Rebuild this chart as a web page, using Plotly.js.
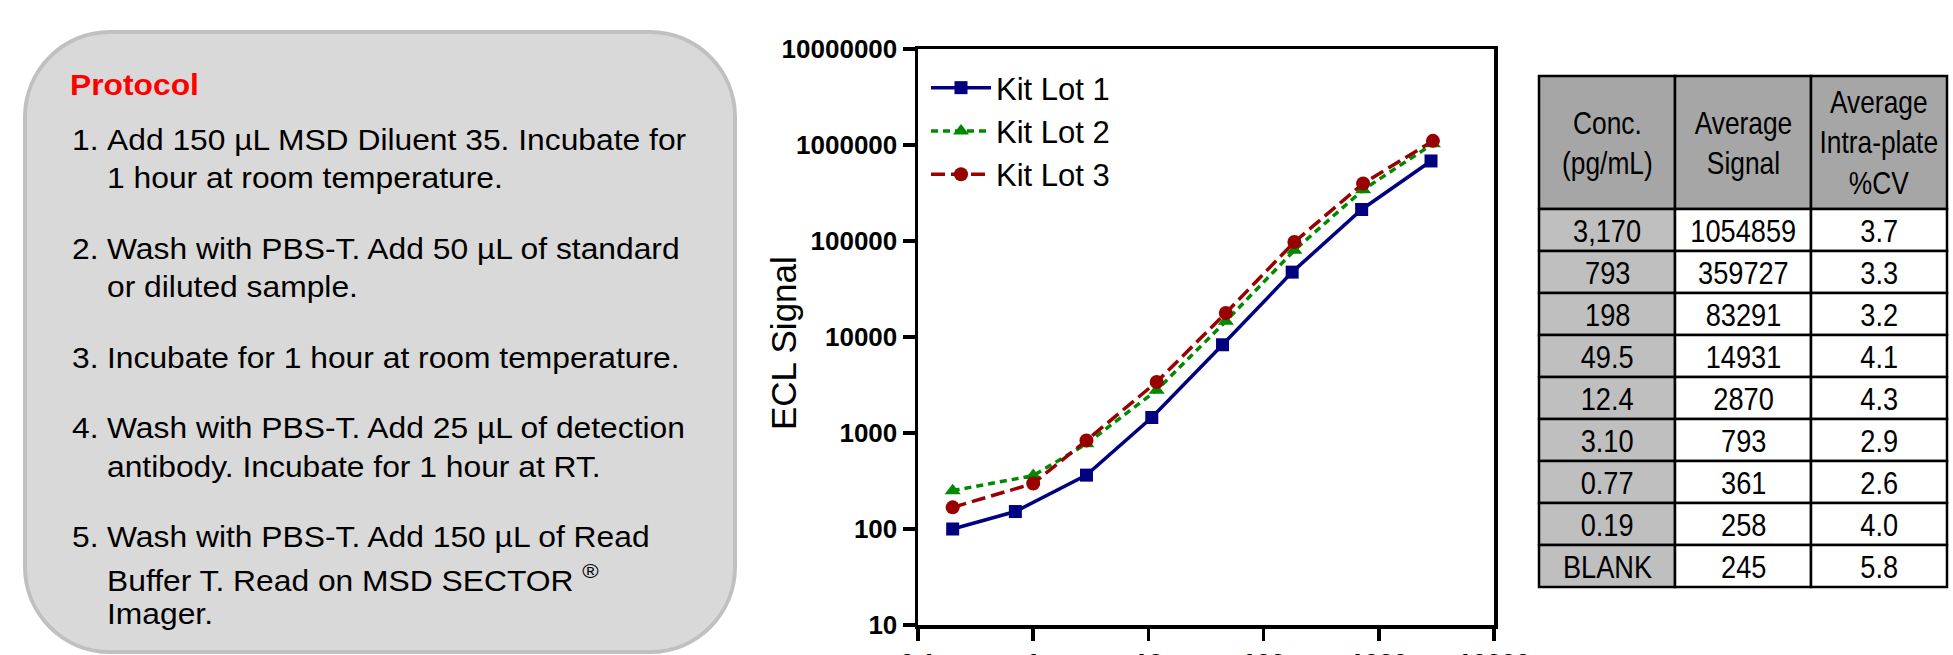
<!DOCTYPE html>
<html><head><meta charset="utf-8">
<script src="https://cdn.plot.ly/plotly-3.0.1.min.js"></script>
<style>html,body{margin:0;padding:0;background:#fff;overflow:hidden}</style>
</head><body><div id="chart" style="width:1953px;height:655px"></div>
<script>
const W = 1953, H = 655;

// ---- chart data ----
const lotNames = ["Kit Lot 1", "Kit Lot 2", "Kit Lot 3"];
const lot1Conc = [0.2, 0.7, 2.9, 10.7, 44, 177, 710, 2840];
const lot1Signal = [100, 152, 364, 1450, 8300, 47400, 213000, 682000];
const lot2Conc = [0.2, 1.0, 2.9, 11.8, 47, 185, 731, 2950];
const lot2Signal = [251, 360, 772, 2790, 14600, 80000, 342000, 1030000];
const lot3Conc = [0.2, 1.0, 2.9, 11.8, 47, 185, 731, 2950];
const lot3Signal = [168, 298, 837, 3400, 17800, 97700, 397000, 1104000];
const xTickVals = [0.1, 1, 10, 100, 1000, 10000];
const xTickText = ["0.1", "1", "10", "100", "1000", "10000"];
const yTickVals = [10, 100, 1000, 10000, 100000, 1000000, 10000000];
const yTickText = ["10", "100", "1000", "10000", "100000", "1000000", "10000000"];
const yTitle = "ECL Signal";

// ---- table data ----
const tableHeader = ["Conc.<br>(pg/mL)", "Average<br>Signal", "Average<br>Intra-plate<br>%CV"];
const tableConc = ["3,170", "793", "198", "49.5", "12.4", "3.10", "0.77", "0.19", "BLANK"];
const tableSignal = ["1054859", "359727", "83291", "14931", "2870", "793", "361", "258", "245"];
const tableCV = ["3.7", "3.3", "3.2", "4.1", "4.3", "2.9", "2.6", "4.0", "5.8"];

// ---- protocol text ----
const protocolTitle = "Protocol";
const protocolSteps = [
  ["Add 150 µL MSD Diluent 35. Incubate for", "1 hour at room temperature."],
  ["Wash with PBS-T. Add 50 µL of standard", "or diluted sample."],
  ["Incubate for 1 hour at room temperature."],
  ["Wash with PBS-T. Add 25 µL of detection", "antibody. Incubate for 1 hour at RT."],
  ["Wash with PBS-T. Add 150 µL of Read", "Buffer T. Read on MSD SECTOR <sup>®</sup>", "Imager."]
];

const FONT = "Liberation Sans, Arial, sans-serif";
const NARROW = "Liberation Sans Narrow, Arial Narrow, Liberation Sans, Arial, sans-serif";
const px = x => x / W;
const py = y => 1 - y / H;

const traces = [
  {x: lot1Conc, y: lot1Signal, name: lotNames[0], type: "scatter", mode: "lines+markers",
   line: {color: "#000080", width: 3.5}, marker: {symbol: "square", size: 13, color: "#000080"}},
  {x: lot2Conc, y: lot2Signal, name: lotNames[1], type: "scatter", mode: "lines+markers",
   line: {color: "#008a00", width: 3.5, dash: "7px,5px"}, marker: {symbol: "triangle-up", size: 14, color: "#008a00"}},
  {x: lot3Conc, y: lot3Signal, name: lotNames[2], type: "scatter", mode: "lines+markers",
   line: {color: "#990000", width: 3.5, dash: "14px,6px"}, marker: {symbol: "circle", size: 14, color: "#990000"}}
];

const shapes = [];
const annotations = [];
const wideIdx = [];   // protocol text, slightly wider in reference
const narrowIdx = []; // table text, condensed in reference

function roundRect(x0, y0, x1, y1, r) {
  const k = 0.5523 * r;
  const P = (x, y) => px(x) + "," + py(y);
  return "M" + P(x0 + r, y0) + " L" + P(x1 - r, y0) +
    " C" + P(x1 - r + k, y0) + " " + P(x1, y0 + r - k) + " " + P(x1, y0 + r) +
    " L" + P(x1, y1 - r) +
    " C" + P(x1, y1 - r + k) + " " + P(x1 - r + k, y1) + " " + P(x1 - r, y1) +
    " L" + P(x0 + r, y1) +
    " C" + P(x0 + r - k, y1) + " " + P(x0, y1 - r + k) + " " + P(x0, y1 - r) +
    " L" + P(x0, y0 + r) +
    " C" + P(x0, y0 + r - k) + " " + P(x0 + r - k, y0) + " " + P(x0 + r, y0) + " Z";
}
shapes.push({type: "path", xref: "paper", yref: "paper", path: roundRect(25, 32, 735, 652, 85),
  fillcolor: "#d9d9d9", line: {color: "#c0c0c0", width: 4}, layer: "below"});

function textAt(text, x, baseline, size, opts) {
  const asc = 0.905 * size;
  wideIdx.push(annotations.length);
  annotations.push(Object.assign({
    text: text, xref: "paper", yref: "paper", x: px(x), y: py(baseline - asc),
    xanchor: "left", yanchor: "top", showarrow: false, borderpad: 0, borderwidth: 0,
    align: "left", font: {family: FONT, size: size, color: "#000000"}
  }, opts || {}));
}
textAt(protocolTitle, 70, 95, 30, {font: {family: FONT, size: 30, color: "#ff0000", weight: "bold"}});
let base = 150;
protocolSteps.forEach((lines, i) => {
  textAt((i + 1) + ".", 72, base, 30);
  lines.forEach(l => { textAt(l, 107, base, 30); base += 38.5; });
  base += 32;
});

// y axis title
annotations.push({text: yTitle, xref: "paper", yref: "paper", x: px(783), y: py(343),
  xanchor: "center", yanchor: "middle", textangle: -90, showarrow: false,
  font: {family: FONT, size: 35, color: "#000000"}});

// table
const tblLeft = 1539, tblTop = 76, colW = 136, headH = 133, rowH = 42;
const tableCols = [tableConc, tableSignal, tableCV];
tableHeader.forEach((h, c) => {
  const x0 = tblLeft + c * colW;
  shapes.push({type: "rect", xref: "paper", yref: "paper", x0: px(x0), x1: px(x0 + colW),
    y0: py(tblTop), y1: py(tblTop + headH), fillcolor: "#a6a6a6", line: {color: "#000", width: 2.5}});
  narrowIdx.push(annotations.length);
  annotations.push({text: h, xref: "paper", yref: "paper", x: px(x0 + colW / 2), y: py(tblTop + headH / 2 + 1),
    xanchor: "center", yanchor: "middle", showarrow: false, borderpad: 0, borderwidth: 0,
    font: {family: NARROW, size: 31, color: "#000"}});
});
tableCols.forEach((col, c) => {
  const x0 = tblLeft + c * colW;
  col.forEach((v, r) => {
    const y0 = tblTop + headH + r * rowH;
    shapes.push({type: "rect", xref: "paper", yref: "paper", x0: px(x0), x1: px(x0 + colW),
      y0: py(y0), y1: py(y0 + rowH), fillcolor: c === 0 ? "#bfbfbf" : "#ffffff", line: {color: "#000", width: 2.5}});
    narrowIdx.push(annotations.length);
    annotations.push({text: v, xref: "paper", yref: "paper", x: px(x0 + colW / 2), y: py(y0 + rowH / 2 + 1),
      xanchor: "center", yanchor: "middle", showarrow: false, borderpad: 0, borderwidth: 0,
      font: {family: NARROW, size: 32, color: "#000"}});
  });
});

const axisCommon = {type: "log", showgrid: false, zeroline: false, showline: true, linecolor: "#000",
  linewidth: 3.5, mirror: true, ticks: "outside", ticklen: 12, tickwidth: 3.5, tickcolor: "#000",
  tickmode: "array", tickfont: {family: FONT, size: 26, color: "#000", weight: "bold"}, automargin: false};

const layout = {
  width: W, height: H, margin: {l: 0, r: 0, t: 0, b: 0},
  paper_bgcolor: "#ffffff", plot_bgcolor: "#ffffff",
  xaxis: Object.assign({}, axisCommon, {domain: [px(918), px(1494)], range: [-1, 4],
    tickvals: xTickVals, ticktext: xTickText}),
  yaxis: Object.assign({}, axisCommon, {domain: [py(625), py(49)], range: [1, 7],
    tickvals: yTickVals, ticktext: yTickText}),
  showlegend: true,
  legend: {x: px(926), y: py(61), xanchor: "left", yanchor: "top", bgcolor: "rgba(0,0,0,0)",
    font: {family: FONT, size: 31, color: "#000"}, itemwidth: 60, tracegroupgap: 0},
  shapes: shapes, annotations: annotations
};

function stretch(indices, sx, origin) {
  indices.forEach(i => {
    const t = document.querySelector('#chart g.annotation[data-index="' + i + '"] text.annotation-text');
    if (!t) return;
    t.style.transformBox = "fill-box";
    t.style.transformOrigin = origin;
    t.style.transform = "scaleX(" + sx + ")";
  });
}

Plotly.newPlot("chart", traces, layout, {displayModeBar: false, staticPlot: true}).then(() => {
  stretch(narrowIdx, 0.85, "center center");
  stretch(wideIdx, 1.06, "left center");
});
</script></body></html>
